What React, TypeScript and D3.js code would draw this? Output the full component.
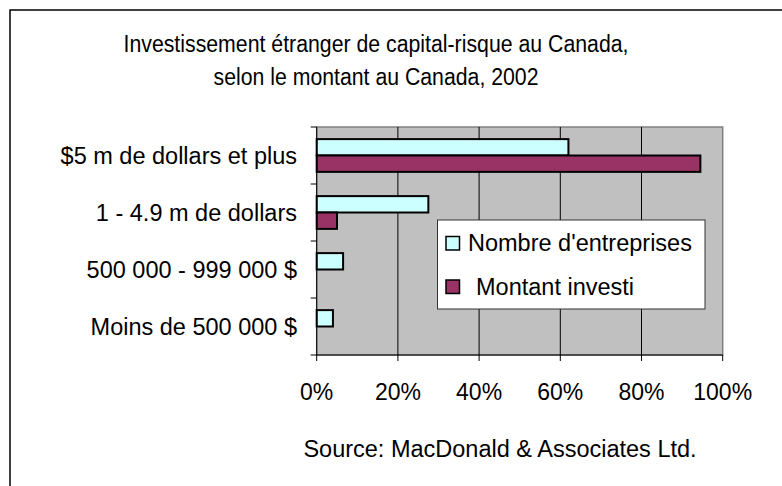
import React from "react";
import * as d3 from "d3";

const categories = [
  "$5 m de dollars et plus",
  "1 - 4.9 m de dollars",
  "500 000 - 999 000 $",
  "Moins de 500 000 $",
];
const seriesNames = ["Nombre d'entreprises", "Montant investi"];
const nombre = [62, 27.5, 6.5, 4];
const montant = [94.5, 5, 0, 0];
const xTicks = [0, 20, 40, 60, 80, 100];
const titleLines = [
  "Investissement étranger de capital-risque au Canada,",
  "selon le montant au Canada, 2002",
];
const titleWidths = [505, 325];
const source = "Source: MacDonald & Associates Ltd.";

const W = 782;
const H = 486;
const plot = { left: 316.7, right: 722.7, top: 127, bottom: 355 };
const colors = ["#ccffff", "#993366"];
const FONT = "'Liberation Sans', Arial, sans-serif";

export default function App() {
  const x = d3.scaleLinear().domain([0, 100]).range([plot.left, plot.right]);
  const y0 = d3
    .scaleBand<string>()
    .domain(categories)
    .range([plot.top, plot.bottom])
    .padding(0);
  const y1 = d3
    .scaleBand<string>()
    .domain(seriesNames)
    .range([0, y0.bandwidth()])
    .paddingInner(0)
    .paddingOuter(0.74);
  const seriesVals = [nombre, montant];

  return (
    <svg
      width={W}
      height={H}
      style={{ position: "absolute", left: 0, top: 0, background: "#fff" }}
      fontFamily={FONT}
    >
      <rect x={10} y={10} width={900} height={900} fill="#fff" stroke="#000" strokeWidth={1.5} />
      {titleLines.map((t, i) => (
        <text
          key={i}
          x={376}
          y={51.5 + i * 33}
          textAnchor="middle"
          fontSize={23}
          textLength={titleWidths[i]}
          lengthAdjust="spacingAndGlyphs"
          fill="#000"
        >
          {t}
        </text>
      ))}
      {/* plot area */}
      <rect
        x={plot.left}
        y={plot.top}
        width={plot.right - plot.left}
        height={plot.bottom - plot.top}
        fill="#c0c0c0"
        stroke="#808080"
        strokeWidth={1.5}
      />
      {xTicks.slice(1, -1).map((t) => (
        <line key={t} x1={x(t)} x2={x(t)} y1={plot.top} y2={plot.bottom} stroke="#000" strokeWidth={1} />
      ))}
      {/* bars */}
      {categories.map((c, ci) =>
        seriesNames.map((s, si) => {
          const v = seriesVals[si][ci];
          if (v <= 0) return null;
          const yy = (y0(c) as number) + (y1(s) as number);
          return (
            <rect
              key={c + s}
              x={x(0)}
              y={yy}
              width={x(v) - x(0)}
              height={y1.bandwidth()}
              fill={colors[si]}
              stroke="#000"
              strokeWidth={2}
            />
          );
        })
      )}
      {/* axes */}
      <line x1={plot.left} x2={plot.left} y1={plot.top} y2={plot.bottom} stroke="#000" strokeWidth={1} />
      <line x1={plot.left} x2={plot.right} y1={plot.bottom} y2={plot.bottom} stroke="#000" strokeWidth={1} />
      {[...categories.map((c) => y0(c) as number), plot.bottom].map((yy, i) => (
        <line key={i} x1={plot.left - 6} x2={plot.left} y1={yy} y2={yy} stroke="#000" strokeWidth={1} />
      ))}
      {xTicks.map((t) => (
        <g key={t}>
          <line x1={x(t)} x2={x(t)} y1={plot.bottom} y2={plot.bottom + 6} stroke="#000" strokeWidth={1} />
          <text x={x(t)} y={400} textAnchor="middle" fontSize={23} fill="#000">
            {t}%
          </text>
        </g>
      ))}
      {categories.map((c) => (
        <text
          key={c}
          x={297}
          y={(y0(c) as number) + y0.bandwidth() / 2 + 8}
          textAnchor="end"
          fontSize={23.5}
          fill="#000"
        >
          {c}
        </text>
      ))}
      {/* legend */}
      <rect x={437.5} y={220} width={267.5} height={89} fill="#fff" stroke="#333" strokeWidth={1} />
      {seriesNames.map((s, i) => (
        <g key={s}>
          <rect
            x={446}
            y={236.5 + i * 43.5}
            width={13.5}
            height={13.5}
            fill={colors[i]}
            stroke="#000"
            strokeWidth={1.5}
          />
          <text x={i === 0 ? 468 : 476} y={251 + i * 44} fontSize={23.5} fill="#000">
            {s}
          </text>
        </g>
      ))}
      <text x={500} y={457} textAnchor="middle" fontSize={23.5} fill="#000">
        {source}
      </text>
    </svg>
  );
}
